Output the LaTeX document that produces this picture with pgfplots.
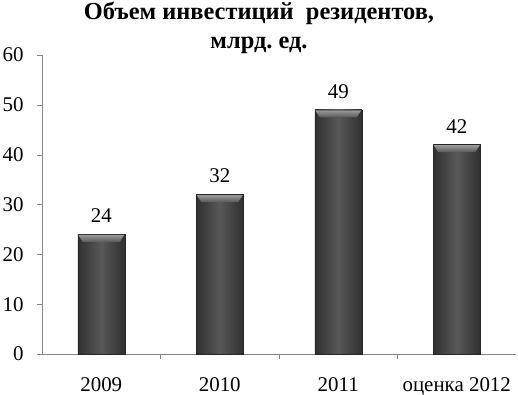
\documentclass[border=0pt]{standalone}
\usepackage{fontspec}
\setmainfont{Liberation Serif}
\usepackage{pgfplots}
\pgfplotsset{compat=1.18}
\frenchspacing
\definecolor{baredge}{HTML}{303030}
\definecolor{barmid}{HTML}{585858}
\definecolor{bevtop}{HTML}{999999}
\definecolor{axisgray}{HTML}{868686}
\pgfdeclareverticalshading{bevelshade}{100bp}{color(0bp)=(barmid); color(25bp)=(barmid); color(75bp)=(bevtop); color(100bp)=(bevtop)}
\pgfdeclareplotmark{bevel}{%
  \pgfpathmoveto{\pgfpoint{-23bp}{-0.5bp}}%
  \pgfpathlineto{\pgfpoint{23bp}{-0.5bp}}%
  \pgfpathlineto{\pgfpoint{18.5bp}{-7.5bp}}%
  \pgfpathlineto{\pgfpoint{-18.5bp}{-7.5bp}}%
  \pgfpathclose
  \pgfshadepath{bevelshade}{0}%
  \pgfusepath{discard}%
}
\pgfplotsset{mybar/.style={ybar, bar shift=0pt, bar width=47bp, draw=baredge!80!black, left color=baredge, right color=baredge, middle color=barmid, nodes near coords}}
\begin{document}
\begin{tikzpicture}
\begin{axis}[
  scale only axis, width=474bp, height=299bp,
  xmin=-0.5, xmax=3.5, ymin=0, ymax=60,
  ytick={0,10,...,60},
  xtick={0.5,1.5,2.5}, xticklabels={},
  extra x ticks={0,1,2,3},
  extra x tick labels={2009,2010,2011,оценка 2012},
  extra x tick style={major tick length=0pt, tick label style={yshift=-20bp}},
  yticklabel style={xshift=-10bp},
  axis lines*=left,
  axis line style={axisgray},
  tick style={axisgray},
  tick align=outside,
  major tick length=5bp,
  ticklabel style={font=\fontsize{21}{24}\selectfont, text=black},
  /pgf/number format/assume math mode=true,
  nodes near coords style={font=\fontsize{21}{24}\selectfont, anchor=south, yshift=8bp},
  title={Объем инвестиций\ \ резидентов,\\млрд. ед.},
  title style={font=\bfseries\fontsize{24.5}{28.5}\selectfont, align=center, yshift=-8bp, xshift=-20bp},
]
\addplot[mybar] coordinates {(0,24)};
\addplot[mybar] coordinates {(1,32)};
\addplot[mybar] coordinates {(2,49)};
\addplot[mybar] coordinates {(3,42)};
\addplot[only marks, mark=bevel] coordinates {(0,24) (1,32) (2,49) (3,42)};
\coordinate (sw) at (rel axis cs:0,0);
\coordinate (ne) at (rel axis cs:1,1);
\end{axis}
\pgfresetboundingbox
\path[use as bounding box] ([xshift=-42bp,yshift=-41bp]sw) rectangle ([xshift=2bp,yshift=55bp]ne);
\end{tikzpicture}
\end{document}
